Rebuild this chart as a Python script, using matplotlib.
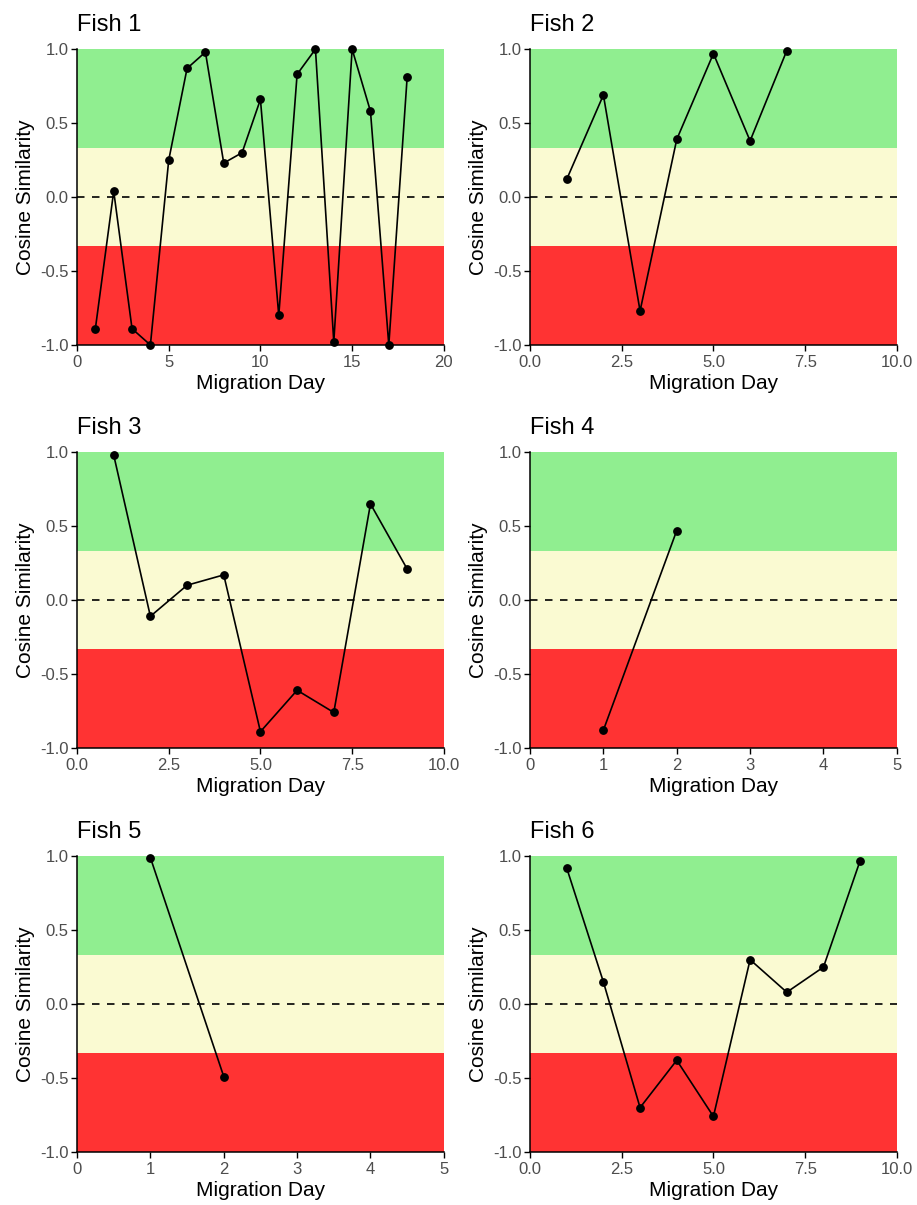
import matplotlib
matplotlib.use('Agg')
import matplotlib.pyplot as plt
import numpy as np

plt.rcParams['font.family'] = ['Liberation Sans', 'DejaVu Sans']

# cosine similarity per migration day
fish1_days = list(range(1, 19))
fish1_vals = [-0.89, 0.04, -0.89, -1.0, 0.25, 0.87, 0.98, 0.23, 0.30, 0.66,
              -0.80, 0.83, 1.0, -0.98, 1.0, 0.58, -1.0, 0.81]
fish2_days = list(range(1, 8))
fish2_vals = [0.12, 0.69, -0.77, 0.39, 0.97, 0.38, 0.99]
fish3_days = list(range(1, 10))
fish3_vals = [0.98, -0.11, 0.10, 0.17, -0.89, -0.61, -0.76, 0.65, 0.21]
fish4_days = [1, 2]
fish4_vals = [-0.88, 0.47]
fish5_days = [1, 2]
fish5_vals = [0.99, -0.49]
fish6_days = list(range(1, 10))
fish6_vals = [0.92, 0.15, -0.70, -0.38, -0.76, 0.30, 0.08, 0.25, 0.97]

titles = ['Fish 1', 'Fish 2', 'Fish 3', 'Fish 4', 'Fish 5', 'Fish 6']
days = [fish1_days, fish2_days, fish3_days, fish4_days, fish5_days, fish6_days]
vals = [fish1_vals, fish2_vals, fish3_vals, fish4_vals, fish5_vals, fish6_vals]
xmax = [20, 10, 10, 5, 5, 10]
xticks = [[0, 5, 10, 15, 20],
          [0, 2.5, 5, 7.5, 10],
          [0, 2.5, 5, 7.5, 10],
          [0, 1, 2, 3, 4, 5],
          [0, 1, 2, 3, 4, 5],
          [0, 2.5, 5, 7.5, 10]]
xlabels = [['0', '5', '10', '15', '20'],
           ['0.0', '2.5', '5.0', '7.5', '10.0'],
           ['0.0', '2.5', '5.0', '7.5', '10.0'],
           ['0', '1', '2', '3', '4', '5'],
           ['0', '1', '2', '3', '4', '5'],
           ['0.0', '2.5', '5.0', '7.5', '10.0']]
yticks = [-1.0, -0.5, 0.0, 0.5, 1.0]

fig = plt.figure(figsize=(9.17, 12.05), dpi=100)

lefts = [0.084, 0.578]
bottoms = [0.7137, 0.3793, 0.0440]
w = 0.4
h = 0.2455

for i in range(6):
    r, c = divmod(i, 2)
    ax = fig.add_axes([lefts[c], bottoms[r], w, h])
    ax.axhspan(1/3, 1, color='#90EE90', lw=0, zorder=0)
    ax.axhspan(-1/3, 1/3, color='#FAFAD2', lw=0, zorder=0)
    ax.axhspan(-1, -1/3, color='#FF3333', lw=0, zorder=0)
    ax.axhline(0, color='black', ls=(0, (4.5, 4.5)), lw=1.2, zorder=1)
    ax.plot(days[i], vals[i], color='black', lw=1.2, marker='o', ms=5.3,
            zorder=3, clip_on=False)
    ax.set_xlim(0, xmax[i])
    ax.set_ylim(-1, 1)
    ax.set_xticks(xticks[i])
    ax.set_xticklabels(xlabels[i])
    ax.set_yticks(yticks)
    ax.set_yticklabels(['%.1f' % t for t in yticks])
    ax.tick_params(labelcolor='#4D4D4D', labelsize=12, length=4, width=1.0,
                   color='black', pad=2)
    ax.tick_params(axis='x', pad=3)
    for s in ['top', 'right']:
        ax.spines[s].set_visible(False)
    for s in ['left', 'bottom']:
        ax.spines[s].set_linewidth(1.1)
    ax.set_xlabel('Migration Day', fontsize=15, labelpad=3)
    ax.set_ylabel('Cosine Similarity', fontsize=15, labelpad=4)
    ax.set_title(titles[i], loc='left', fontsize=17, pad=13)

fig.savefig('out.png', dpi=100)
